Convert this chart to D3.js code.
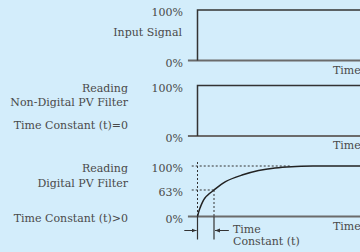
<!DOCTYPE html>
<html>
<head>
<meta charset="utf-8">
<script src="https://cdn.jsdelivr.net/npm/d3@7"></script>
<style>
  body { margin: 0; background: #d3edfb; }
  svg { display: block; }
  text { font-family: "DejaVu Serif", serif; font-size: 11px; fill: #4a4a4a; }
</style>
</head>
<body>
<div id="chart"></div>
<script>
// time in units of the time constant (t)
const stepTimes = [0, 0, 10];
const stepValues = [0, 100, 100];

// filtered reading
const filterTimes = [0, 0.15, 0.45, 1, 1.7, 2.7, 3.7, 4.7, 5.7, 7, 10];
const filterValues = [0, 20, 44, 63, 76, 86, 93, 97, 99, 100, 100];

const panelNames = [["Input Signal"], ["Reading", "Non-Digital PV Filter"], ["Reading", "Digital PV Filter"]];
const panelConditions = ["", "Time Constant (t)=0", "Time Constant (t)>0"];
const panelTicks = [[100, 0], [100, 0], [100, 63, 0]];

const width = 360;
const height = 252;
const panelTops = [10, 85.5, 166];
const panelH = 50.5;

const svg = d3.select("#chart").append("svg")
  .attr("width", width)
  .attr("height", height);

const x = d3.scaleLinear().domain([0, 1]).range([197.5, 214]);

const stepData = stepTimes.map((t, i) => ({ t, v: stepValues[i] }));
const filterData = filterTimes.map((t, i) => ({ t, v: filterValues[i] }));

svg.append("defs").append("marker")
  .attr("id", "arrow").attr("viewBox", "0 0 10 10")
  .attr("refX", 10).attr("refY", 5)
  .attr("markerWidth", 5).attr("markerHeight", 5)
  .attr("orient", "auto")
  .append("path").attr("d", "M0,1L10,5L0,9z").attr("fill", "#333");

panelTops.forEach((top, p) => {
  // last panel is drawn with 63% as the marked level
  const y = p === 2
    ? d3.scaleLinear().domain([0, 63, 100]).range([top + panelH, top + panelH * 0.475, top])
    : d3.scaleLinear().domain([0, 100]).range([top + panelH, top]);
  const g = svg.append("g");

  // baseline
  g.append("line")
    .attr("x1", x(-0.58)).attr("x2", width)
    .attr("y1", y(0)).attr("y2", y(0))
    .attr("stroke", "#6b6b6b").attr("stroke-width", 1.8);

  // percent labels
  g.selectAll(".tick").data(panelTicks[p]).enter().append("text")
    .attr("x", 183).attr("y", (d) => y(d) + 6)
    .attr("text-anchor", "end")
    .text((d) => d + "%");

  // panel name
  const names = panelNames[p];
  if (p === 0) {
    g.append("text").attr("x", 182).attr("y", 36).attr("text-anchor", "end").text(names[0]);
  } else {
    names.forEach((n, i) => {
      g.append("text").attr("x", 128).attr("y", top + 6 + i * 14.5)
        .attr("text-anchor", "end").text(n);
    });
    g.append("text").attr("x", 128).attr("y", p === 1 ? 129 : y(0) + 5)
      .attr("text-anchor", "end").text(panelConditions[p]);
  }

  g.append("text").attr("x", 333).attr("y", y(0) + 13).text("Time");

  const line = d3.line().x((d) => x(d.t)).y((d) => y(d.v));

  if (p < 2) {
    g.append("path").datum(stepData)
      .attr("d", line)
      .attr("fill", "none").attr("stroke", "#333").attr("stroke-width", 1.5);
  } else {
    // guide lines
    const dashed = (x1, x2, y1, y2) => g.append("line")
      .attr("x1", x1).attr("x2", x2).attr("y1", y1).attr("y2", y2)
      .attr("stroke", "#333").attr("stroke-dasharray", "2,2");
    dashed(x(0), x(0), top - 4, y(0));
    dashed(x(-0.35), x(5.7), y(100), y(100));
    dashed(x(-0.35), x(1), y(63), y(63));
    dashed(x(1), x(1), y(63), y(0));

    // time constant markers below the axis
    [0, 1].forEach((t) => {
      g.append("line")
        .attr("x1", x(t)).attr("x2", x(t))
        .attr("y1", y(0)).attr("y2", y(0) + 23)
        .attr("stroke", "#333").attr("stroke-width", 1.2);
    });
    const ay = y(0) + 14;
    g.append("line")
      .attr("x1", x(-0.8)).attr("x2", x(0) - 1)
      .attr("y1", ay).attr("y2", ay)
      .attr("stroke", "#333").attr("marker-end", "url(#arrow)");
    g.append("line")
      .attr("x1", x(1.9)).attr("x2", x(1) + 1)
      .attr("y1", ay).attr("y2", ay)
      .attr("stroke", "#333").attr("marker-end", "url(#arrow)");

    g.append("text").attr("x", 233).attr("y", 233).text("Time");
    g.append("text").attr("x", 233).attr("y", 245).text("Constant (t)");

    g.append("path").datum(filterData)
      .attr("d", line.curve(d3.curveCatmullRom.alpha(0.5)))
      .attr("fill", "none").attr("stroke", "#222").attr("stroke-width", 1.5);
  }
});
</script>
</body>
</html>
